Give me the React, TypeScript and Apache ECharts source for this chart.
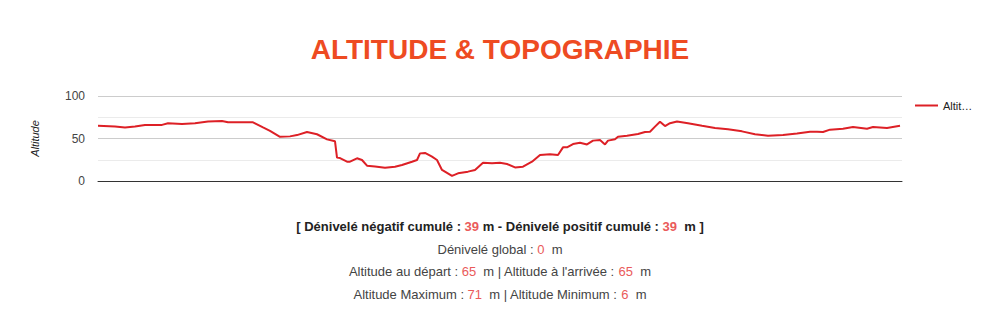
import React, { useEffect, useRef } from "react";
import * as echarts from "echarts";

// Distance along the track (arbitrary units) and altitude (m)
const distance = [
  0, 17, 27, 37, 47, 64, 70, 84, 97, 110, 124, 130, 132, 155, 165, 172, 182, 192,
  199, 209, 219, 229, 237, 239, 242, 249, 252, 259, 264, 269, 277, 287, 297, 304,
  314, 319, 322, 327, 334, 339, 344, 354, 360, 370, 377, 385, 394, 402, 409, 417,
  425, 434, 442, 452, 460, 465, 469, 475, 482, 489, 495, 502, 507, 510, 517, 520,
  529, 540, 547, 552, 557, 562, 567, 572, 579, 590, 604, 617, 630, 644, 657, 670,
  685, 699, 712, 719, 725, 732, 745, 755, 769, 775, 789, 802,
];
const altitude = [
  65, 64, 63, 64, 66, 66, 68, 67, 68, 70, 70.5, 69, 69, 69, 63, 59, 52, 52.5,
  54, 57.6, 55, 49, 46.7, 27.5, 27, 22.7, 22.7, 26.7, 24.7, 18, 17, 15.7, 16.8, 18.8,
  22.7, 24.7, 32.5, 33, 28.6, 24.7, 13, 6, 9, 11, 13, 21.5, 20.8, 21.5, 20, 16,
  16.8, 22.7, 30.6, 31.4, 30.6, 39.6, 39.6, 43.5, 45, 43, 47.5, 48.2, 43, 47.5, 49, 52,
  53.3, 55.3, 57.6, 58, 64, 69.8, 64.7, 68, 70, 68, 65, 62.4, 60.8, 58.4, 55, 53.3,
  54, 56, 58, 58, 57.6, 60.4, 61.5, 63.5, 61.5, 63.5, 62.4, 65,
];
const yTicks = [0, 25, 50, 75, 100];
const shownTicks = [0, 50, 100];

const seriesName = "Altitude";
const titleText = "ALTITUDE & TOPOGRAPHIE";
const denivNeg = 39;
const denivPos = 39;
const denivGlobal = 0;
const altStart = 65;
const altEnd = 65;
const altMax = 71;
const altMin = 6;

export default function App() {
  const ref = useRef<HTMLDivElement>(null);
  useEffect(() => {
    document.body.style.margin = "0";
    const chart = echarts.init(ref.current!, null, { renderer: "svg" });
    const data = distance.map((d, i) => [d, altitude[i]]);
    const grey = "#444444";
    const red = "#ea5a5a";
    const ff = "Liberation Sans, Arial";
    const rich = {
      b: { fontFamily: ff, fontSize: 13, fontWeight: "bold", fill: "#222222" },
      br: { fontFamily: ff, fontSize: 13, fontWeight: "bold", fill: red },
      n: { fontFamily: ff, fontSize: 13, fill: grey },
      r: { fontFamily: ff, fontSize: 13, fill: red },
    };
    chart.setOption({
      animation: false,
      backgroundColor: "#ffffff",
      title: {
        text: titleText,
        left: "center",
        top: 30,
        textStyle: { fontFamily: ff, fontSize: 28, fontWeight: "bold", color: "#ee4b22" },
      },
      legend: {
        show: true,
        left: 910,
        top: 95,
        icon: "rect",
        itemWidth: 23,
        itemHeight: 2,
        itemGap: 6,
        textStyle: {
          fontFamily: ff,
          fontSize: 11,
          color: "#222",
          width: 34,
          overflow: "truncate",
          ellipsis: "…",
        },
        data: [seriesName],
      },
      grid: { left: 98, right: 98, top: 96, height: 85 },
      xAxis: {
        type: "value",
        min: 0,
        max: 804,
        axisLine: { show: true, lineStyle: { color: "#333", width: 1 } },
        axisTick: { show: false },
        axisLabel: { show: false },
        splitLine: { show: false },
      },
      yAxis: {
        type: "value",
        min: yTicks[0],
        max: yTicks[yTicks.length - 1],
        interval: 25,
        name: seriesName,
        nameLocation: "middle",
        nameGap: 58,
        nameRotate: 90,
        nameTextStyle: { fontFamily: ff, fontSize: 11, fontStyle: "italic", color: "#222" },
        axisLine: { show: false },
        axisTick: { show: false },
        axisLabel: {
          fontFamily: ff,
          fontSize: 12,
          color: "#444",
          margin: 13,
          formatter: (v: number) => (shownTicks.includes(v) ? String(v) : ""),
        },
        splitLine: {
          lineStyle: { color: ["#cccccc", "#ebebeb", "#cccccc", "#ebebeb", "#cccccc"], width: 1 },
        },
      },
      series: [
        {
          name: seriesName,
          type: "line",
          data,
          showSymbol: false,
          symbol: "none",
          lineStyle: { color: "#dd2026", width: 2 },
          itemStyle: { color: "#dd2026" },
        },
      ],
      graphic: [
        {
          type: "text",
          left: "center",
          top: 220,
          style: {
            text: `{b|[ Dénivelé négatif cumulé : }{br|${denivNeg}}{b| m - Dénivelé positif cumulé : }{br|${denivPos}}{b|  m ]}`,
            rich,
          },
        },
        {
          type: "text",
          left: "center",
          top: 243,
          style: { text: `{n|Dénivelé global : }{r|${denivGlobal}}{n|  m}`, rich },
        },
        {
          type: "text",
          left: "center",
          top: 265,
          style: {
            text: `{n|Altitude au départ : }{r|${altStart}}{n|  m | Altitude à l'arrivée : }{r|${altEnd}}{n|  m}`,
            rich,
          },
        },
        {
          type: "text",
          left: "center",
          top: 288,
          style: {
            text: `{n|Altitude Maximum : }{r|${altMax}}{n|  m | Altitude Minimum : }{r|${altMin}}{n|  m}`,
            rich,
          },
        },
      ],
    });
    return () => chart.dispose();
  }, []);
  return <div ref={ref} style={{ width: 1000, height: 315 }} />;
}
